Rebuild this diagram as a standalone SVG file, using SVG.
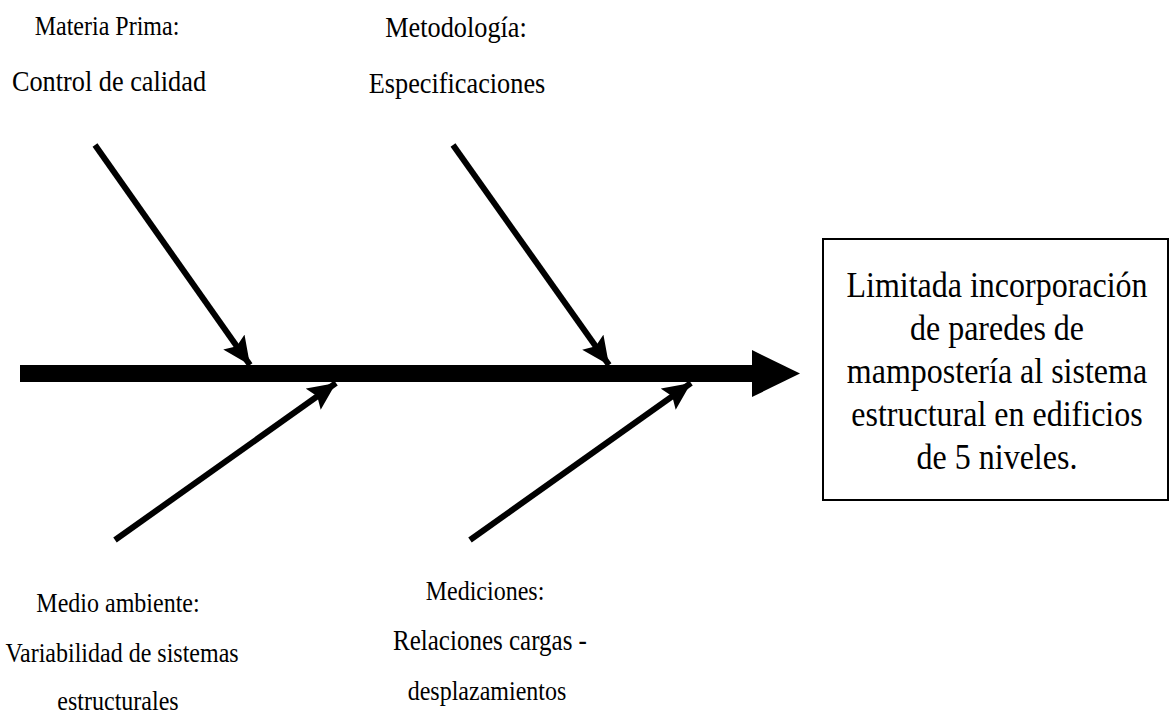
<svg xmlns="http://www.w3.org/2000/svg" width="1175" height="715" viewBox="0 0 1175 715">
<style>
text{font-family:"Liberation Serif","Times New Roman",serif;fill:#000;text-anchor:middle}
.lbl{font-size:26.3px}
.sm{font-size:24px}
.eff{font-size:32px}
.bone{stroke:#000;stroke-width:6;fill:none}
</style>
<defs>
<marker id="ah" markerUnits="userSpaceOnUse" markerWidth="32" markerHeight="28" refX="28" refY="13" orient="auto">
<path d="M0,0 L28,13 L0,26 L5,13 Z" fill="#000"/>
</marker>
</defs>
<rect width="1175" height="715" fill="#fff"/>
<g id="connectors">
<line x1="20" y1="373.5" x2="760" y2="373.5" stroke="#000" stroke-width="17"/>
<polygon points="752,350 800,373.5 752,397" fill="#000"/>
<line class="bone" x1="95" y1="145" x2="250" y2="365" marker-end="url(#ah)"/>
<line class="bone" x1="453" y1="145" x2="609" y2="365" marker-end="url(#ah)"/>
<line class="bone" x1="115" y1="540" x2="336" y2="383" marker-end="url(#ah)"/>
<line class="bone" x1="470" y1="540" x2="691" y2="383" marker-end="url(#ah)"/>
</g>
<g id="effect">
<rect x="823" y="239" width="345" height="261" fill="#fff" stroke="#000" stroke-width="2"/>
<text class="eff" transform="translate(997,297) scale(1,1.1)">Limitada incorporación</text>
<text class="eff" transform="translate(997,340) scale(1,1.1)">de paredes de</text>
<text class="eff" transform="translate(997,383) scale(1,1.1)">mampostería al sistema</text>
<text class="eff" transform="translate(997,426) scale(1,1.1)">estructural en edificios</text>
<text class="eff" transform="translate(997,469) scale(1,1.1)">de 5 niveles.</text>
</g>
<g id="materia-prima">
<text class="sm" transform="translate(107,35) scale(1,1.15)">Materia Prima:</text>
<text class="lbl" transform="translate(109,91) scale(1,1.1)">Control de calidad</text>
</g>
<g id="metodologia">
<text class="lbl" transform="translate(456,37) scale(1,1.1)">Metodología:</text>
<text class="lbl" transform="translate(457,93) scale(1,1.1)">Especificaciones</text>
</g>
<g id="medio-ambiente">
<text class="sm" transform="translate(118,612) scale(1,1.15)">Medio ambiente:</text>
<text class="sm" transform="translate(122,662) scale(1,1.15)">Variabilidad de sistemas</text>
<text class="sm" transform="translate(118,710) scale(1,1.15)">estructurales</text>
</g>
<g id="mediciones">
<text class="sm" transform="translate(485,600) scale(1,1.15)">Mediciones:</text>
<text class="sm" transform="translate(490,650) scale(1,1.15)" style="font-size:25px">Relaciones cargas -</text>
<text class="sm" transform="translate(487,700) scale(1,1.15)">desplazamientos</text>
</g>
</svg>
